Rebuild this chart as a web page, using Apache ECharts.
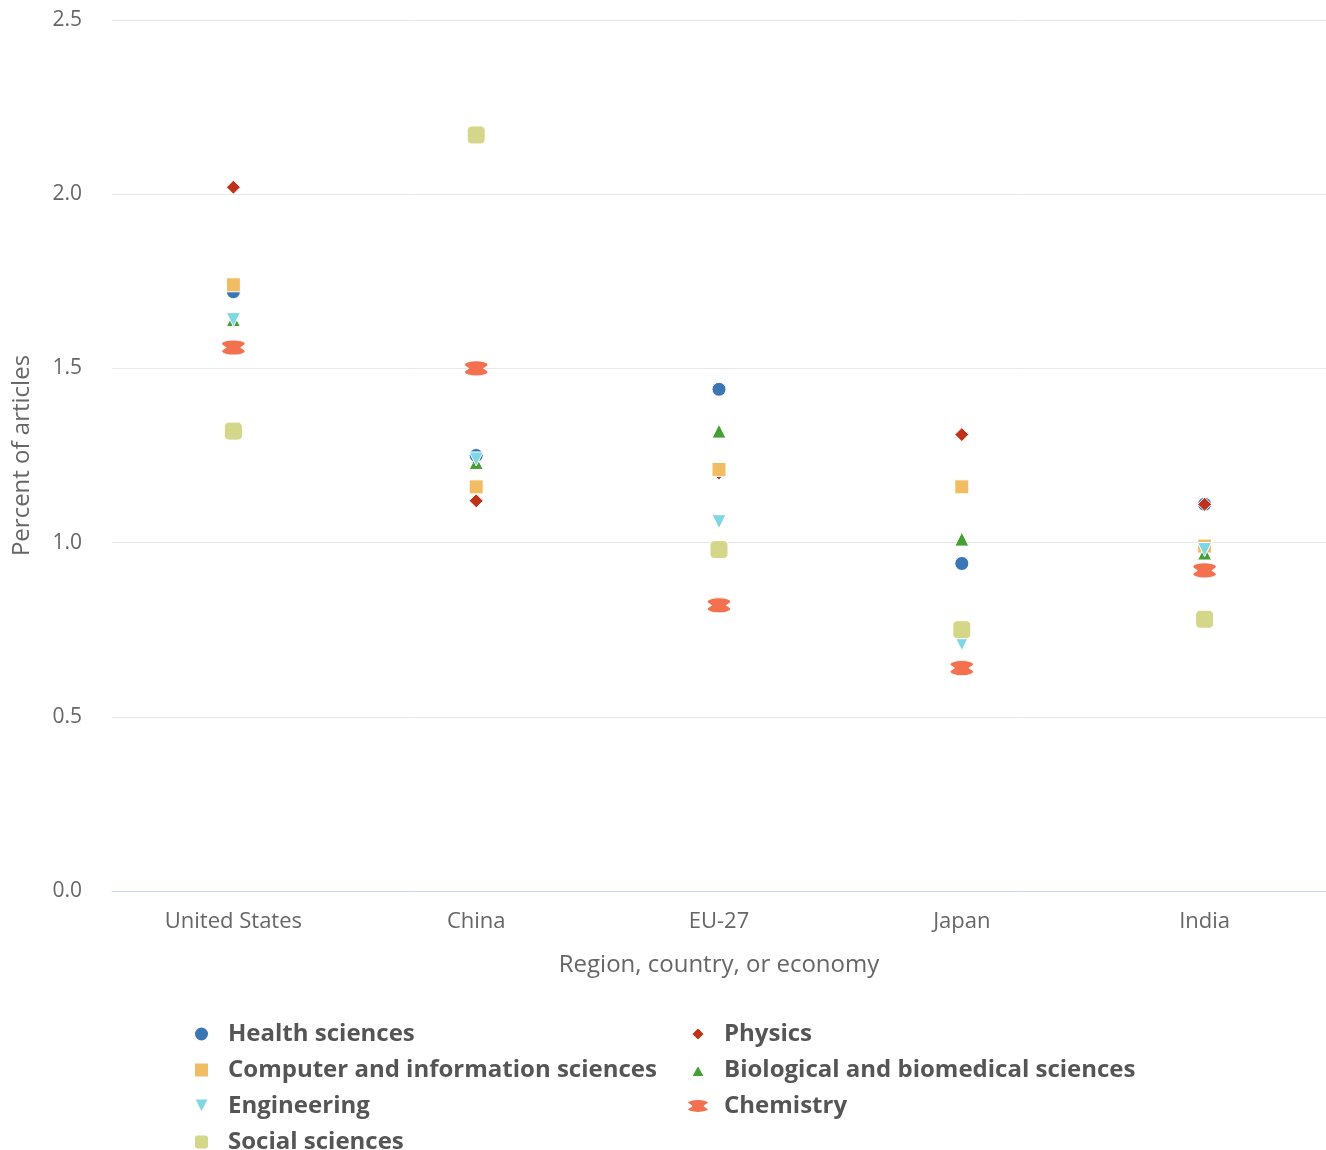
<!DOCTYPE html>
<html><head><meta charset="utf-8">
<script src="https://cdn.jsdelivr.net/npm/echarts@6/dist/echarts.min.js"></script>
<style>html,body{margin:0;padding:0;background:#fff}#c{width:1326px;height:1150px}</style>
</head><body><div id="c"></div>
<script>
const categories = ['United States', 'China', 'EU-27', 'Japan', 'India'];
const yTicks = [0, 0.5, 1.0, 1.5, 2.0, 2.5];
const health      = [1.72, 1.25, 1.44, 0.94, 1.11];
const physics     = [2.02, 1.12, 1.20, 1.31, 1.11];
const computer    = [1.74, 1.16, 1.21, 1.16, 0.99];
const biological  = [1.64, 1.23, 1.32, 1.01, 0.97];
const engineering = [1.64, 1.24, 1.06, 0.71, 0.98];
const chemistry   = [1.56, 1.50, 0.82, 0.64, 0.92];
const social      = [1.32, 2.17, 0.98, 0.75, 0.78];

const chemPath = 'path://M11,0 C18,0 22,2 22,3.5 C22,5 19,6 18,7 C19,8 22,9 22,10.5 C22,12 18,14 11,14 C4,14 0,12 0,10.5 C0,9 3,8 4,7 C3,6 0,5 0,3.5 C0,2 4,0 11,0 Z';
const triDown = 'path://M0,0 L10,0 L5,10 Z';
// legend icons padded to a 22x14 box so they keep their shape
const legendDiamond = 'path://M0,0 L0.01,0 Z M4,7 L11,0 L18,7 L11,14 Z M22,14 L21.99,14 Z';
const legendTriangle = 'path://M0,0 L0.01,0 Z M4,14 L11,1 L18,14 Z M22,14 L21.99,14 Z';

const seriesDefs = [
  {name:'Health sciences', data:health, color:'#3a75b4', symbol:'circle', size:14},
  {name:'Physics', data:physics, color:'#c0321a', symbol:'diamond', size:14},
  {name:'Computer and information sciences', data:computer, color:'#f2bc62', symbol:'rect', size:14},
  {name:'Biological and biomedical sciences', data:biological, color:'#44a035', symbol:'triangle', size:14},
  {name:'Engineering', data:engineering, color:'#80d7e4', symbol:triDown, size:14},
  {name:'Chemistry', data:chemistry, color:'#f3714f', symbol:chemPath, size:[24,15]},
  {name:'Social sciences', data:social, color:'#d4d68a', symbol:'roundRect', size:18}
];

const font = '"Open Sans", sans-serif';
const legendText = pad => ({fontFamily: font, fontSize: 24, fontWeight: 'bold', color: '#555555',
  lineHeight: 26, padding: [0, 0, 0, pad]});

const chart = echarts.init(document.getElementById('c'));
chart.setOption({
  animation: false,
  grid: {left: 112, right: 0, top: 20, bottom: 259},
  xAxis: {
    type: 'category', data: categories,
    name: 'Region, country, or economy', nameLocation: 'middle', nameGap: 62,
    nameTextStyle: {fontFamily: font, fontSize: 24, color: '#666666'},
    axisLine: {lineStyle: {color: '#ccd6eb', width: 1}},
    axisTick: {alignWithLabel: true, length: 10, lineStyle: {color: '#ccd6eb'}},
    axisLabel: {fontFamily: font, fontSize: 22, color: '#666666', margin: 20}
  },
  yAxis: {
    type: 'value', min: yTicks[0], max: yTicks[yTicks.length-1], interval: 0.5,
    name: 'Percent of articles', nameLocation: 'middle', nameGap: 78,
    nameTextStyle: {fontFamily: font, fontSize: 24, color: '#666666'},
    axisLine: {show: false}, axisTick: {show: false},
    splitLine: {lineStyle: {color: '#e6e6e6', width: 1}},
    axisLabel: {fontFamily: font, fontSize: 21, color: '#666666', margin: 30,
      formatter: v => v.toFixed(1)}
  },
  legend: [
    {data: ['Health sciences','Computer and information sciences','Engineering','Social sciences'],
     left: 188, orient: 'vertical', top: 1016, height: 160, itemGap: 10,
     itemWidth: 15, itemHeight: 15, textStyle: legendText(14), selectedMode: false},
    {data: [{name:'Physics', icon: legendDiamond},
            {name:'Biological and biomedical sciences', icon: legendTriangle},
            {name:'Chemistry'}],
     left: 681, orient: 'vertical', top: 1016, height: 160, itemGap: 10,
     itemWidth: 22, itemHeight: 14, textStyle: legendText(10), selectedMode: false}
  ],
  series: seriesDefs.map(s => ({
    name: s.name, type: 'scatter', data: s.data,
    symbol: s.symbol, symbolSize: s.size,
    itemStyle: {color: s.color, borderColor: '#ffffff', borderWidth: 1, opacity: 1},
    emphasis: {disabled: true}
  }))
});
</script></body></html>
